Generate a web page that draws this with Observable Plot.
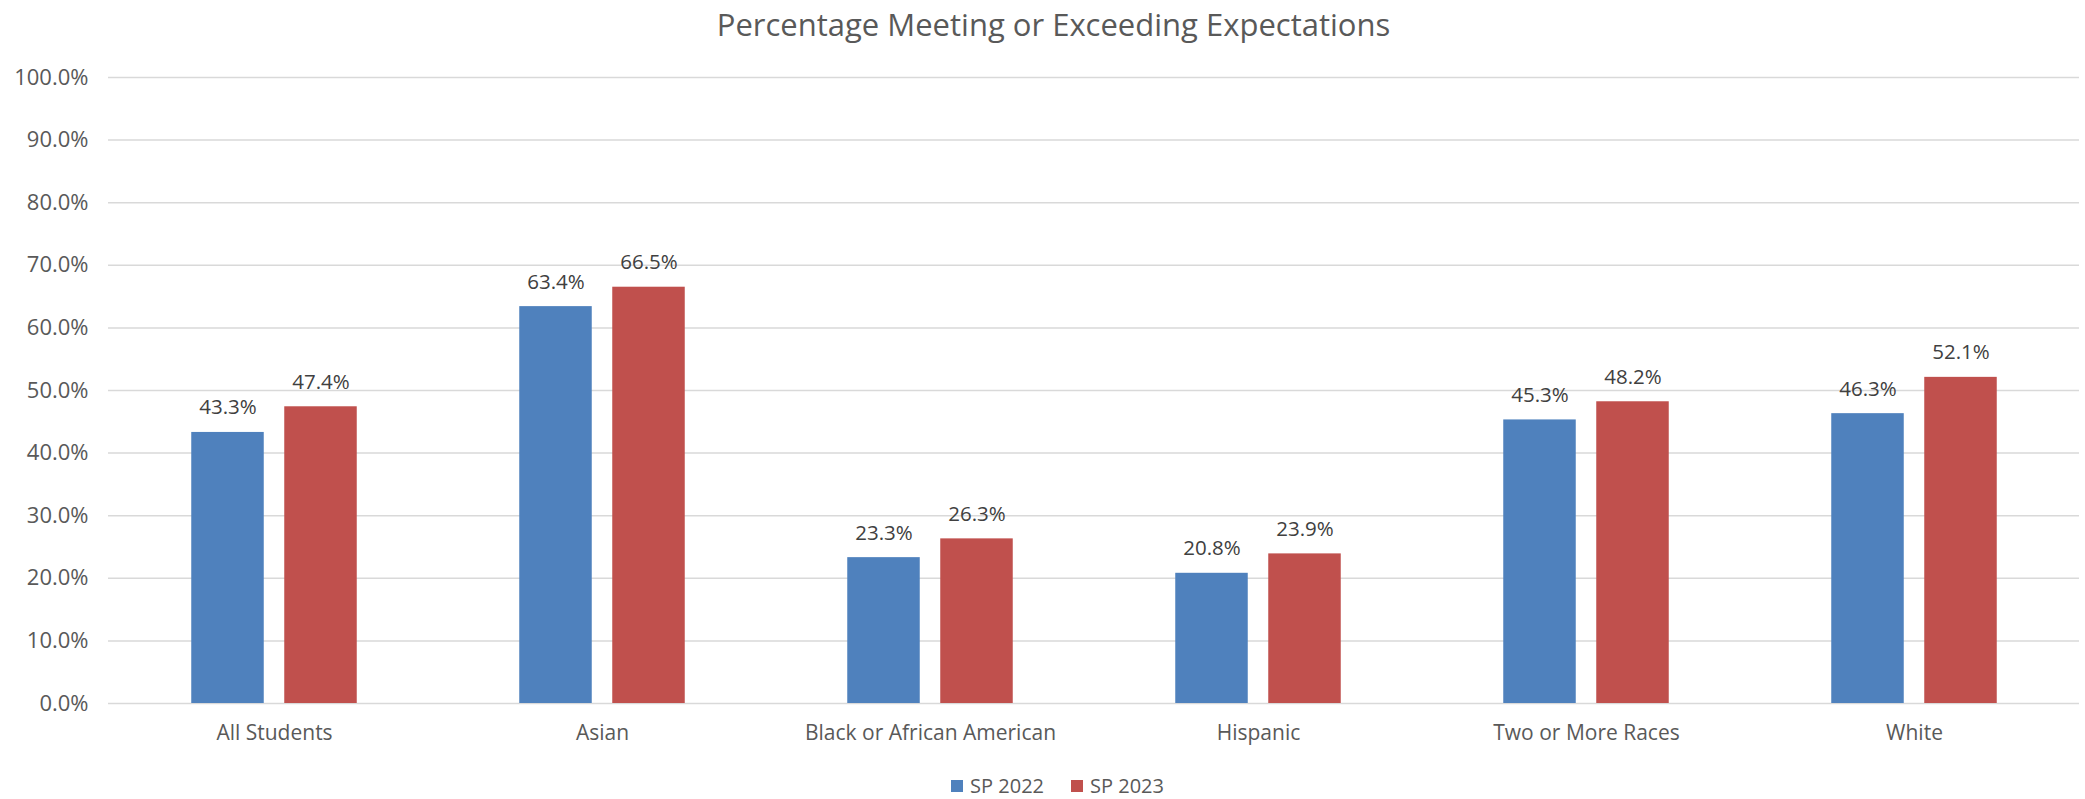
<!DOCTYPE html>
<html>
<head>
<meta charset="utf-8">
<script src="https://cdn.jsdelivr.net/npm/d3@7"></script>
<script src="https://cdn.jsdelivr.net/npm/@observablehq/plot@0.6"></script>
<style>
  html, body { margin: 0; padding: 0; background: #fff; }
  body { width: 2085px; height: 799px; overflow: hidden; font-family: "Open Sans", sans-serif; color: #595959; }
  #title { height: 50px; line-height: 48px; text-align: center; font-size: 31px; color: #595959; padding-left: 22px; box-sizing: border-box; width: 2085px; }
  #legend { display: flex; justify-content: center; align-items: center; gap: 27px; height: 39px; padding-top: 12px; font-size: 20px; color: #595959; padding-left: 30px; box-sizing: border-box; width: 2085px; }
  .item { display: flex; align-items: center; gap: 7px; }
  .sw { width: 12px; height: 12px; display: inline-block; }
</style>
</head>
<body>
<div id="title">Percentage Meeting or Exceeding Expectations</div>
<div id="chart"></div>
<div id="legend"></div>
<script>
const categories = ["All Students", "Asian", "Black or African American", "Hispanic", "Two or More Races", "White"];
const seriesNames = ["SP 2022", "SP 2023"];
const sp2022 = [0.433, 0.634, 0.233, 0.208, 0.453, 0.463];
const sp2023 = [0.474, 0.665, 0.263, 0.239, 0.482, 0.521];
const yTicks = [0, 0.1, 0.2, 0.3, 0.4, 0.5, 0.6, 0.7, 0.8, 0.9, 1.0];
const colors = ["#4F81BD", "#C0504D"];

const d22 = categories.map((c, i) => ({category: c, value: sp2022[i]}));
const d23 = categories.map((c, i) => ({category: c, value: sp2023[i]}));

const off = 46.5;
const inset = 127.75;
const fmt = d3.format(".1%");

const chart = Plot.plot({
  width: 2085,
  height: 710,
  marginLeft: 108,
  marginRight: 6,
  marginTop: 27,
  marginBottom: 57,
  style: {fontFamily: "Open Sans, sans-serif", fontSize: "21px", color: "#595959", background: "#fff"},
  x: {domain: categories, padding: 0, label: null},
  y: {domain: [0, 1], label: null},
  marks: [
    Plot.gridY(yTicks, {stroke: "#D9D9D9", strokeOpacity: 1, strokeWidth: 1.5}),
    Plot.barY(d22, {x: "category", y: "value", fill: colors[0], dx: -off, insetLeft: inset, insetRight: inset}),
    Plot.barY(d23, {x: "category", y: "value", fill: colors[1], dx: off, insetLeft: inset, insetRight: inset}),
    Plot.text(d22, {x: "category", y: "value", text: d => fmt(d.value), dx: -off, dy: -18, lineAnchor: "bottom", fill: "#404040", fontSize: 20.5}),
    Plot.text(d23, {x: "category", y: "value", text: d => fmt(d.value), dx: off, dy: -18, lineAnchor: "bottom", fill: "#404040", fontSize: 20.5}),
    Plot.axisX({tickSize: 0, tickPadding: 22, label: null, fontSize: 21}),
    Plot.axisY({ticks: yTicks, tickFormat: fmt, tickSize: 0, tickPadding: 20, label: null, fontSize: 22})
  ]
});
document.getElementById("chart").appendChild(chart);

const legend = document.getElementById("legend");
seriesNames.forEach((name, i) => {
  const item = document.createElement("div");
  item.className = "item";
  const sw = document.createElement("span");
  sw.className = "sw";
  sw.style.background = colors[i];
  const t = document.createElement("span");
  t.textContent = name;
  item.appendChild(sw);
  item.appendChild(t);
  legend.appendChild(item);
});
</script>
</body>
</html>
